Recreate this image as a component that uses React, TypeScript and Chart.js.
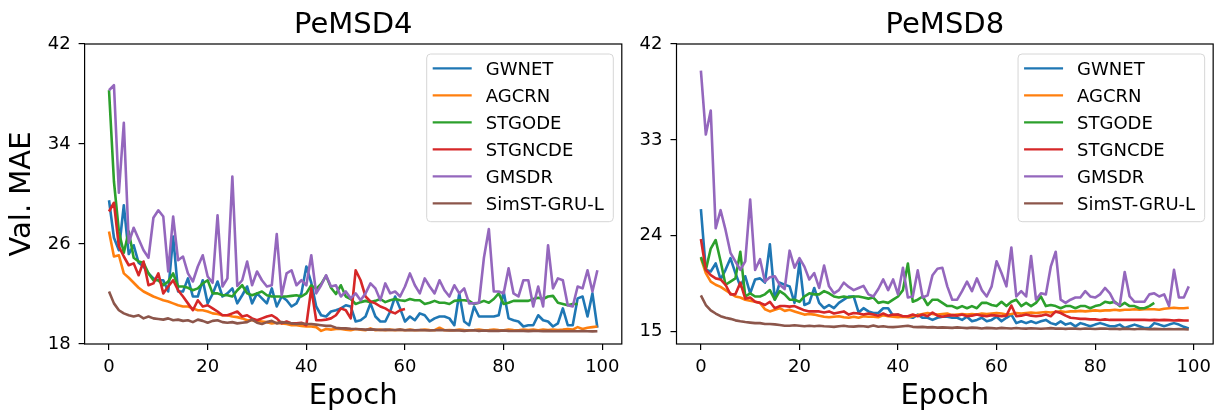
import React, { useEffect, useRef } from 'react';
import { Chart, registerables } from 'chart.js';

Chart.register(...registerables);

const FONT = "'DejaVu Sans', 'Liberation Sans', sans-serif";

const SERIES_NAMES = ['GWNET', 'AGCRN', 'STGODE', 'STGNCDE', 'GMSDR', 'SimST-GRU-L'];
const COLORS = ['#1f77b4', '#ff7f0e', '#2ca02c', '#d62728', '#9467bd', '#8c564b'];
const X_TICKS = [0, 20, 40, 60, 80, 100];
const D4_Y_TICKS = [18, 26, 34, 42];
const D8_Y_TICKS = [15, 24, 33, 42];

// ---------- PeMSD4 ----------
const D4_GWNET = [29.5, 26.5, 25.5, 29.1, 25.2, 25.9, 24.5, 24.2, 23.65, 23.25,
  23.1, 23.1, 22.2, 26.6, 22.2, 22.2, 23.25, 21.8, 21.8, 23.1,
  21.25, 22.0, 23.0, 21.8, 22.05, 22.45, 21.25, 21.9, 22.6, 21.25,
  22.05, 21.65, 21.25, 22.45, 21.0, 21.8, 21.5, 21.0, 21.25, 22.05,
  24.2, 22.9, 21.0, 20.3, 20.2, 20.6, 20.7, 20.85, 21.1, 21.0,
  19.8, 19.9, 20.2, 21.25, 20.2, 19.8, 19.8, 20.6, 21.8, 20.85,
  19.8, 20.2, 19.9, 20.45, 20.3, 19.8, 20.05, 20.2, 20.2, 20.05,
  19.5, 22.05, 19.8, 19.5, 21.0, 20.2, 20.2, 20.2, 20.2, 20.3,
  22.2, 20.05, 19.9, 19.8, 19.4, 19.5, 19.5, 20.3, 19.9, 19.8,
  19.4, 19.65, 20.85, 19.5, 19.5, 21.65, 21.8, 20.2, 22.05, 19.3];
const D4_AGCRN = [27.0, 25.0, 25.1, 23.65, 23.3, 22.9, 22.5, 22.2, 22.0, 21.8,
  21.65, 21.5, 21.4, 21.25, 21.1, 21.0, 21.0, 20.85, 20.7, 20.7,
  20.6, 20.45, 20.4, 20.3, 20.3, 20.2, 20.15, 20.05, 19.9, 19.9,
  19.85, 19.8, 19.75, 19.65, 19.7, 19.65, 19.6, 19.5, 19.5, 19.45,
  19.4, 19.4, 19.35, 19.05, 19.2, 19.15, 19.2, 19.2, 19.15, 19.1,
  19.2, 19.15, 19.1, 19.25, 19.1, 19.15, 19.1, 19.15, 19.1, 19.15,
  19.1, 19.15, 19.1, 19.12, 19.15, 19.12, 19.1, 19.3, 19.1, 19.12,
  19.1, 19.15, 19.12, 19.1, 19.12, 19.15, 19.1, 19.12, 19.15, 19.12,
  19.1, 19.15, 19.12, 19.1, 19.15, 19.12, 19.15, 19.1, 19.15, 19.12,
  19.15, 19.12, 19.15, 19.2, 19.15, 19.35, 19.2, 19.3, 19.35, 19.4];
const D4_STGODE = [38.3, 31.0, 27.0, 25.3, 27.0, 24.9, 24.6, 24.5, 23.65, 23.1,
  23.1, 22.7, 23.0, 23.65, 22.6, 22.6, 22.5, 22.3, 22.45, 22.85,
  23.1, 22.05, 22.05, 21.9, 21.9, 21.8, 22.3, 22.7, 22.05, 21.9,
  22.05, 22.2, 21.9, 21.8, 21.8, 21.8, 21.8, 21.85, 21.9, 21.8,
  22.05, 22.7, 22.4, 22.8, 23.45, 22.5, 22.0, 22.7, 21.8, 21.6,
  21.2, 21.35, 21.45, 21.35, 21.45, 21.6, 21.35, 21.5, 21.6, 21.5,
  21.45, 21.6, 21.5, 21.5, 21.2, 21.3, 21.45, 21.3, 21.3, 21.2,
  21.45, 21.5, 21.5, 21.45, 21.2, 21.3, 21.45, 21.3, 21.6, 22.05,
  21.2, 21.3, 21.45, 21.45, 21.45, 21.45, 21.6, 21.7, 21.6, 21.8,
  21.85, 21.3, 21.2, 21.1, 21.2, 21.2];
const D4_STGNCDE = [28.6, 29.3, 25.8, 25.0, 24.3, 24.45, 23.5, 24.6, 22.7, 22.85,
  23.65, 22.05, 22.6, 23.1, 22.3, 21.8, 21.25, 20.7, 21.5, 21.0,
  21.1, 20.85, 20.6, 20.3, 20.3, 20.45, 20.6, 20.2, 20.3, 20.05,
  19.9, 20.05, 20.2, 20.3, 20.05, 19.65, 19.8, 19.65, 19.65, 19.7,
  19.5, 22.45, 19.9, 19.9, 19.95, 20.05, 20.3, 20.85, 20.7, 20.05,
  23.9, 23.1, 21.8, 21.4, 21.25, 21.0, 20.85, 20.6, 20.45, 20.7,
  20.8];
const D4_GMSDR = [38.3, 38.7, 30.1, 35.7, 26.1, 27.3, 26.4, 25.5, 24.9, 28.1,
  28.7, 28.2, 23.8, 28.2, 24.7, 25.0, 23.65, 23.0, 24.2, 25.1,
  23.4, 22.9, 28.3, 22.6, 23.25, 31.4, 22.65, 23.1, 24.6, 22.7,
  23.8, 23.1, 22.6, 22.7, 26.8, 21.9, 23.65, 23.9, 22.7, 23.1,
  22.7, 25.1, 22.05, 22.7, 23.5, 22.6, 22.7, 21.8, 22.2, 21.65,
  22.05, 21.5, 22.05, 22.85, 22.45, 21.5, 22.85, 22.05, 22.2, 21.8,
  22.6, 23.65, 22.7, 22.05, 23.25, 22.6, 22.05, 23.1, 22.3, 21.8,
  22.7, 22.05, 22.45, 21.25, 21.25, 21.3, 24.9, 27.2, 22.2, 22.2,
  22.05, 24.05, 22.05, 21.8, 23.1, 23.1, 21.0, 22.6, 21.0, 25.9,
  22.45, 23.25, 23.1, 21.1, 21.0, 22.6, 22.45, 23.9, 22.2, 23.9];
const D4_SIMST = [22.2, 21.25, 20.7, 20.45, 20.3, 20.2, 20.3, 20.05, 20.2, 20.05,
  20.0, 19.95, 20.05, 19.9, 19.95, 19.85, 19.9, 19.75, 19.95, 19.85,
  19.7, 19.85, 19.9, 19.75, 19.7, 19.75, 19.65, 19.7, 19.75, 19.95,
  19.7, 19.6, 19.75, 19.85, 19.65, 19.75, 19.7, 19.65, 19.6, 19.65,
  19.6, 19.6, 19.55, 19.5, 19.45, 19.45, 19.3, 19.25, 19.25, 19.22,
  19.2, 19.18, 19.15, 19.17, 19.15, 19.12, 19.15, 19.13, 19.12, 19.15,
  19.1, 19.12, 19.1, 19.12, 19.1, 19.08, 19.1, 19.12, 19.1, 19.08,
  19.1, 19.08, 19.05, 19.08, 19.1, 19.05, 19.08, 19.05, 19.06, 19.05,
  19.08, 19.05, 19.04, 19.06, 19.05, 19.03, 19.05, 19.04, 19.03, 19.05,
  19.02, 19.04, 19.03, 19.02, 19.04, 19.02, 19.03, 19.02, 19.01, 19.02];

// ---------- PeMSD8 ----------
const D8_GWNET = [26.5, 20.8, 20.65, 21.4, 19.9, 20.8, 21.9, 20.5, 19.25, 20.2,
  18.6, 19.9, 20.0, 19.6, 23.2, 18.0, 19.6, 19.4, 19.25, 17.7,
  21.5, 17.5, 17.7, 19.1, 17.7, 17.2, 17.5, 17.2, 17.7, 18.0,
  18.3, 18.3, 16.8, 17.2, 16.9, 16.75, 16.75, 17.2, 17.2, 16.5,
  16.6, 16.4, 16.4, 16.3, 16.6, 16.3, 16.3, 16.1, 16.3, 16.4,
  16.4, 16.3, 16.3, 16.1, 16.4, 15.97, 16.1, 16.3, 15.97, 16.1,
  16.4, 15.97, 16.3, 16.6, 15.8, 15.97, 15.8, 15.97, 15.8, 15.97,
  16.1, 15.8, 15.66, 15.97, 15.66, 15.8, 15.5, 15.8, 15.66, 15.5,
  15.66, 15.8, 15.66, 15.5, 15.5, 15.66, 15.34, 15.5, 15.66, 15.5,
  15.34, 15.34, 15.8, 15.66, 15.5, 15.66, 15.8, 15.66, 15.45, 15.3];
const D8_AGCRN = [21.9, 20.5, 19.7, 19.4, 19.2, 18.9, 18.6, 18.3, 18.2, 18.0,
  17.9, 17.8, 17.7, 17.1, 16.9, 17.05, 17.2, 16.95, 17.05, 16.9,
  16.75, 16.6, 16.65, 16.6, 16.5, 16.4, 16.35, 16.4, 16.45, 16.35,
  16.3, 16.4, 16.3, 16.45, 16.4, 16.4, 16.35, 16.55, 16.45, 16.4,
  16.35, 16.4, 16.35, 16.45, 16.55, 16.65, 16.75, 16.65, 16.6, 16.65,
  16.7, 16.55, 16.6, 16.65, 16.6, 16.65, 16.6, 16.7, 16.65, 16.7,
  16.75, 16.7, 16.6, 16.65, 16.75, 16.7, 16.75, 16.8, 16.75, 16.8,
  16.85, 16.8, 16.85, 16.9, 16.85, 16.9, 16.9, 16.95, 16.9, 16.95,
  17.0, 16.95, 17.0, 17.0, 17.05, 17.0, 17.05, 17.05, 17.1, 17.05,
  17.1, 17.1, 17.1, 17.05, 17.15, 17.2, 17.25, 17.2, 17.2, 17.25];
const D8_STGODE = [22.0, 20.8, 22.8, 23.6, 21.6, 19.4, 19.7, 20.0, 22.5, 18.3,
  18.6, 18.3, 18.3, 18.5, 18.9, 18.0, 18.8, 18.5, 18.0, 18.0,
  17.8, 18.3, 18.6, 18.5, 18.5, 18.8, 18.6, 18.3, 18.2, 18.3,
  18.2, 18.3, 18.3, 18.2, 18.1, 18.2, 17.7, 17.8, 17.7, 18.0,
  18.3, 18.9, 21.4, 17.8, 18.0, 18.3, 17.5, 18.0, 18.0, 17.7,
  17.4, 17.4, 17.2, 17.4, 17.2, 17.4, 17.2, 17.7, 17.7, 17.5,
  17.4, 17.8, 17.4, 17.8, 18.0, 17.4, 17.7, 17.4, 17.7, 18.3,
  17.4, 17.5, 17.4, 17.2, 17.4, 17.4, 17.2, 17.4, 17.4, 17.2,
  17.4, 17.5, 17.8, 17.7, 17.8, 17.4, 17.7, 17.4, 17.4, 17.2,
  17.2, 17.4, 17.7];
const D8_STGNCDE = [23.7, 20.8, 20.3, 20.0, 19.9, 19.4, 18.5, 18.5, 19.6, 18.1,
  18.2, 17.8, 17.7, 17.5, 17.8, 17.2, 17.4, 17.4, 17.35, 17.4,
  17.2, 17.0, 16.9, 16.9, 16.9, 16.8, 16.9, 16.7, 16.8, 16.9,
  16.6, 16.75, 16.7, 16.6, 16.7, 16.6, 16.5, 16.7, 16.5, 16.6,
  16.6, 16.45, 16.45, 16.6, 16.45, 16.6, 16.45, 16.8, 16.5, 16.4,
  16.5, 16.55, 16.5, 16.6, 16.45, 16.5, 16.6, 16.5, 16.45, 16.55,
  16.5, 16.45, 16.5, 17.45, 16.45, 16.5, 16.6, 16.5, 16.45, 16.5,
  16.6, 16.45, 16.9, 16.75, 16.5, 16.3, 16.25, 16.2, 16.2, 16.15,
  16.15, 16.1, 16.15, 16.1, 16.1, 16.12, 16.1, 16.1, 16.12, 16.1,
  16.1, 16.08, 16.1, 16.08, 16.1, 16.08, 16.05, 16.08, 16.05, 16.05];
const D8_GMSDR = [39.5, 33.5, 35.75, 24.7, 26.4, 24.55, 22.4, 21.6, 20.8, 21.6,
  27.4, 20.8, 21.8, 19.7, 20.1, 20.2, 19.4, 19.0, 22.6, 21.0,
  21.9, 21.1, 19.9, 20.5, 19.1, 21.2, 19.25, 18.6, 18.9, 19.6,
  19.2, 18.9, 19.1, 19.3, 18.5, 18.3, 19.0, 19.9, 18.9, 19.9,
  18.5, 21.0, 18.2, 18.3, 20.75, 18.2, 18.4, 20.3, 20.9, 21.0,
  19.25, 18.0, 18.0, 18.8, 19.7, 18.8, 20.0, 18.9, 18.3, 19.25,
  21.6, 20.5, 19.25, 22.9, 18.3, 18.8, 18.3, 22.1, 18.0, 18.6,
  18.5, 21.1, 22.5, 18.0, 17.7, 18.0, 18.2, 18.2, 18.8, 18.3,
  18.2, 18.5, 19.1, 18.6, 17.7, 17.5, 20.6, 18.3, 17.8, 17.8,
  17.8, 18.5, 18.6, 18.3, 18.5, 17.4, 20.8, 18.2, 18.2, 19.25];
const D8_SIMST = [18.4, 17.5, 17.0, 16.7, 16.45, 16.3, 16.2, 16.06, 15.97, 15.9,
  15.85, 15.8, 15.8, 15.72, 15.72, 15.68, 15.62, 15.55, 15.56, 15.6,
  15.55, 15.5, 15.55, 15.5, 15.55, 15.5, 15.48, 15.45, 15.5, 15.55,
  15.48, 15.47, 15.52, 15.5, 15.45, 15.58, 15.46, 15.5, 15.44, 15.42,
  15.46, 15.5, 15.55, 15.45, 15.42, 15.45, 15.4, 15.42, 15.38, 15.4,
  15.38, 15.35, 15.4, 15.36, 15.33, 15.38, 15.35, 15.3, 15.35, 15.33,
  15.3, 15.35, 15.32, 15.3, 15.34, 15.3, 15.28, 15.32, 15.3, 15.27,
  15.3, 15.33, 15.28, 15.3, 15.26, 15.3, 15.28, 15.25, 15.3, 15.27,
  15.25, 15.28, 15.3, 15.25, 15.27, 15.24, 15.28, 15.25, 15.23, 15.27,
  15.25, 15.22, 15.26, 15.24, 15.22, 15.25, 15.22, 15.24, 15.22, 15.2];

const D4_SERIES = [D4_GWNET, D4_AGCRN, D4_STGODE, D4_STGNCDE, D4_GMSDR, D4_SIMST];
const D8_SERIES = [D8_GWNET, D8_AGCRN, D8_STGODE, D8_STGNCDE, D8_GMSDR, D8_SIMST];

const decorPlugin = {
  id: 'decor',
  afterDatasetsDraw(chart: any, _args: any, opts: any) {
    const { ctx, chartArea: a } = chart;
    ctx.save();
    // frame (all four spines)
    ctx.strokeStyle = '#000';
    ctx.lineWidth = 1.2;
    ctx.strokeRect(a.left, a.top, a.right - a.left, a.bottom - a.top);
    // title
    ctx.fillStyle = '#000';
    ctx.font = `29px ${FONT}`;
    ctx.textAlign = 'center';
    ctx.textBaseline = 'alphabetic';
    ctx.fillText(opts.title, (a.left + a.right) / 2, 33);
    // legend
    const w = 186.6;
    const h = 167.7;
    const lx = a.right - 8.5 - w;
    const ly = a.top + 10;
    ctx.beginPath();
    (ctx as any).roundRect(lx, ly, w, h, 4);
    ctx.fillStyle = 'rgba(255,255,255,0.8)';
    ctx.fill();
    ctx.strokeStyle = '#d6d6d6';
    ctx.lineWidth = 1;
    ctx.stroke();
    ctx.font = `18px ${FONT}`;
    ctx.textAlign = 'left';
    chart.data.datasets.forEach((ds: any, i: number) => {
      const cy = ly + 14.3 + 27 * i;
      ctx.beginPath();
      ctx.strokeStyle = ds.borderColor;
      ctx.lineWidth = 2.3;
      ctx.moveTo(lx + 6, cy);
      ctx.lineTo(lx + 45, cy);
      ctx.stroke();
      ctx.fillStyle = '#000';
      ctx.fillText(ds.label, lx + 59, cy + 6.6);
    });
    ctx.restore();
  },
};

function buildChart(canvas: HTMLCanvasElement, cfg: any) {
  const datasets = cfg.series.map((vals: number[], i: number) => ({
    label: SERIES_NAMES[i],
    data: vals.map((v, k) => ({ x: k, y: v })),
    borderColor: COLORS[i],
    backgroundColor: COLORS[i],
    borderWidth: 2.6,
    pointRadius: 0,
    pointHoverRadius: 0,
    tension: 0,
    fill: false,
    borderJoinStyle: 'round',
    order: SERIES_NAMES.length - i,
  }));
  const tickFont = { family: FONT, size: 18 };
  return new Chart(canvas, {
    type: 'line',
    data: { datasets },
    plugins: [decorPlugin],
    options: {
      animation: false,
      responsive: false,
      events: [],
      layout: { padding: { top: 44, right: cfg.rightPad, left: 0, bottom: 0 } },
      plugins: {
        legend: { display: false },
        tooltip: { enabled: false },
        title: { display: false },
        decor: { title: cfg.title },
      } as any,
      scales: {
        x: {
          type: 'linear',
          min: -4.95,
          max: 103.95,
          afterBuildTicks: (s: any) => {
            s.ticks = X_TICKS.map((v) => ({ value: v }));
          },
          afterFit: (s: any) => {
            s.height = 69;
          },
          ticks: { autoSkip: false, maxRotation: 0, font: tickFont, color: '#000', padding: 7 },
          grid: { display: true, drawOnChartArea: false, drawTicks: true, tickLength: 6, tickColor: '#000', lineWidth: 1.2 },
          border: { display: false },
          title: {
            display: true,
            text: 'Epoch',
            color: '#000',
            font: { family: FONT, size: 29, lineHeight: 1 },
            padding: { top: 0, bottom: 1.8 },
          },
        },
        y: {
          type: 'linear',
          min: cfg.yMin,
          max: cfg.yMax,
          afterBuildTicks: (s: any) => {
            s.ticks = cfg.yTicks.map((v: number) => ({ value: v }));
          },
          afterFit: (s: any) => {
            s.width = cfg.yWidth;
          },
          ticks: { autoSkip: false, font: tickFont, color: '#000', padding: 8 },
          grid: { display: true, drawOnChartArea: false, drawTicks: true, tickLength: 6, tickColor: '#000', lineWidth: 1.2 },
          border: { display: false },
          title: {
            display: !!cfg.yTitle,
            text: cfg.yTitle || '',
            color: '#000',
            font: { family: FONT, size: 29, lineHeight: 1 },
            padding: { top: 7.7, bottom: 0 },
          },
        },
      },
    } as any,
  });
}

export default function App() {
  const leftRef = useRef<HTMLCanvasElement>(null);
  const rightRef = useRef<HTMLCanvasElement>(null);

  useEffect(() => {
    const c1 = buildChart(leftRef.current!, {
      series: D4_SERIES,
      title: 'PeMSD4',
      yMin: 18,
      yMax: 42,
      yTicks: D4_Y_TICKS,
      yWidth: 84.6,
      rightPad: 8.2,
      yTitle: 'Val. MAE',
    });
    const c2 = buildChart(rightRef.current!, {
      series: D8_SERIES,
      title: 'PeMSD8',
      yMin: 13.84,
      yMax: 42,
      yTicks: D8_Y_TICKS,
      yWidth: 46.5,
      rightPad: 3.5,
      yTitle: '',
    });
    return () => {
      c1.destroy();
      c2.destroy();
    };
  }, []);

  return (
    <div style={{ position: 'fixed', left: 0, top: 0, width: 1218, height: 413, background: '#fff' }}>
      <canvas ref={leftRef} width={630} height={413} style={{ position: 'absolute', left: 0, top: 0, width: 630, height: 413 }} />
      <canvas ref={rightRef} width={588} height={413} style={{ position: 'absolute', left: 630, top: 0, width: 588, height: 413 }} />
    </div>
  );
}
